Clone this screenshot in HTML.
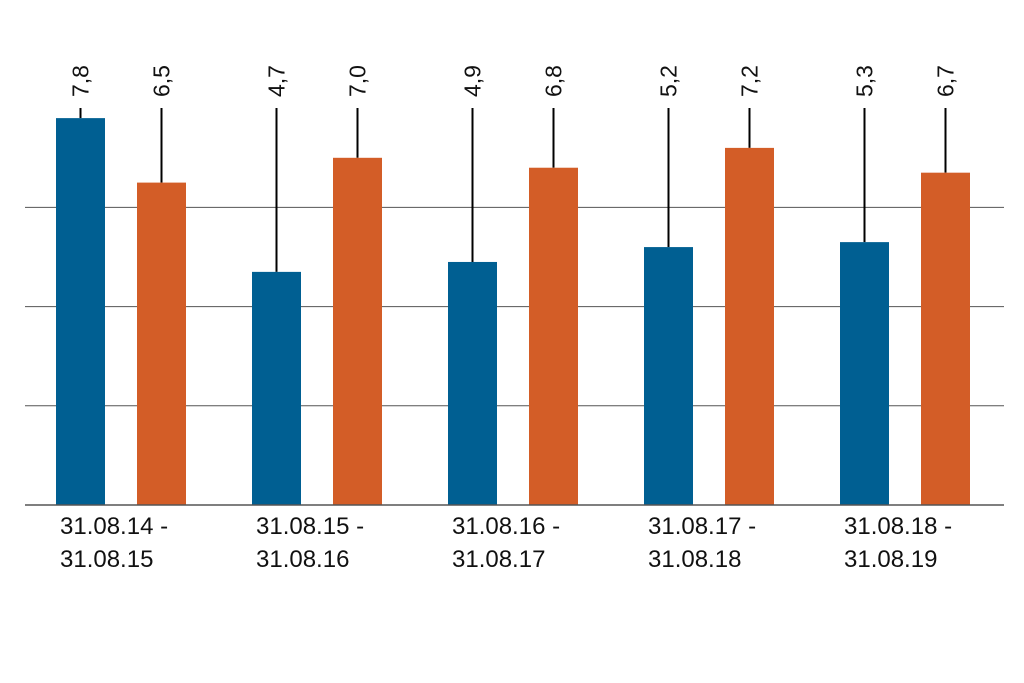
<!DOCTYPE html>
<html><head><meta charset="utf-8"><style>
html,body{margin:0;padding:0;background:#fff;}
svg{display:block;font-family:"Liberation Sans",sans-serif;}
</style></head><body>
<svg id="chart" width="1024" height="683" viewBox="0 0 1024 683" xmlns="http://www.w3.org/2000/svg"></svg>
<script>
const categories1 = ["31.08.14 -","31.08.15 -","31.08.16 -","31.08.17 -","31.08.18 -"];
const categories2 = ["31.08.15","31.08.16","31.08.17","31.08.18","31.08.19"];
const seriesA = [7.8, 4.7, 4.9, 5.2, 5.3];
const seriesB = [6.5, 7.0, 6.8, 7.2, 6.7];
const labelsA = ["7,8","4,7","4,9","5,2","5,3"];
const labelsB = ["6,5","7,0","6,8","7,2","6,7"];
const gridTicks = [2, 4, 6];

const svg = document.getElementById('chart');
const NS = "http://www.w3.org/2000/svg";
const base = 505, unit = 49.6, left = 25, right = 1004;
const y = v => base - v * unit;
const groupX = i => 56 + i * 196;
const barW = 49;
function mk(tag, attrs){ const e = document.createElementNS(NS, tag); for (const k in attrs) e.setAttribute(k, attrs[k]); svg.appendChild(e); return e; }

gridTicks.forEach(t => {
  const g = mk('line', {x1:left, x2:right, y1:y(t), y2:y(t), stroke:'#555', 'stroke-width':1});
  
  
});

function drawBar(i, v, lab, x, color, nm){
  const cx = x + barW/2;
  const ln = mk('line', {x1:cx, x2:cx, y1:108, y2:y(v), stroke:'#000', 'stroke-width':2});
  
  
  const r = mk('rect', {x:x, y:y(v), width:barW, height:base - y(v), fill:color});
  
  
  const t = mk('text', {x:0, y:0, 'font-size':23, fill:'#111', transform:`translate(${cx+8},97) rotate(-90)`});
  t.textContent = lab;
  
  
}

categories1.forEach((c, i) => {
  const gx = groupX(i);
  drawBar(i, seriesA[i], labelsA[i], gx, '#005f92', 'bar-a-' + (i+1));
  drawBar(i, seriesB[i], labelsB[i], gx + 81, '#d35d27', 'bar-b-' + (i+1));
  const t1 = mk('text', {x:gx + 4, y:534, 'font-size':24, fill:'#111'});
  t1.textContent = c;
  
  
  const t2 = mk('text', {x:gx + 4, y:567, 'font-size':24, fill:'#111'});
  t2.textContent = categories2[i];
  
  
});

const ax = mk('line', {x1:left, x2:right, y1:base, y2:base, stroke:'#555', 'stroke-width':1.5});


</script>
</body></html>
